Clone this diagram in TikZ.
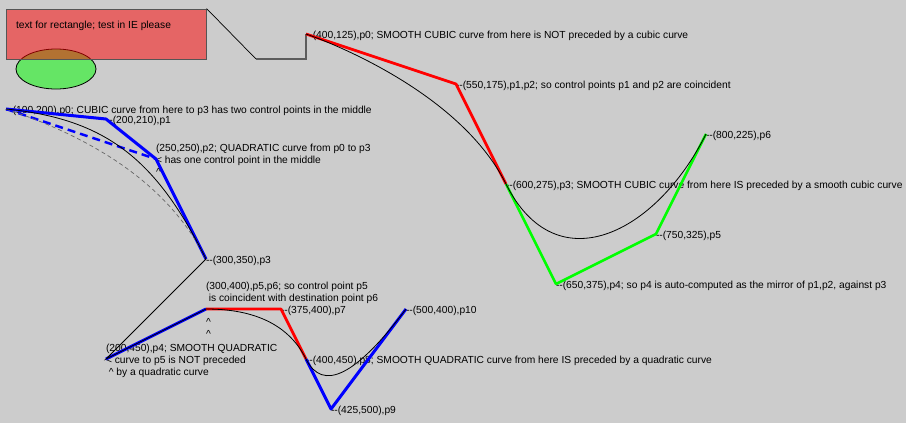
\documentclass[tikz,border=0pt]{standalone}
\usepackage{fontspec}
\setmainfont{Liberation Sans}
\definecolor{bg}{HTML}{CCCCCC}
\definecolor{edgegray}{HTML}{555555}
\definecolor{polygray}{HTML}{5C5C5C}
\begin{document}
\begin{tikzpicture}[x=1pt,y=-1pt,
  lbl/.style={anchor=base west,inner sep=0pt,outer sep=0pt,font=\fontsize{10.25}{12}\selectfont},
  bluepoly/.style={draw=blue,line width=3pt,line join=round},
  redpoly/.style={draw=red,line width=2.7pt,line join=round},
  greenpoly/.style={draw=green,line width=2.5pt,line join=round},
  thincurve/.style={draw=black,line width=0.8pt},
  graydash/.style={draw=gray!80!black,line width=0.7pt,dash pattern=on 4pt off 3pt},
  bluedash/.style={draw=blue,line width=2.4pt,dash pattern=on 8pt off 5pt}]
\path[fill=bg] (94,91) rectangle (1000,514);
\useasboundingbox (94,91) rectangle (1000,514);
% shapes
\draw[fill=green,fill opacity=0.5,line width=0.8pt] (150,160) ellipse [x radius=40pt,y radius=20pt];
\node[draw=edgegray,line width=1pt,fill=red,fill opacity=0.5,text opacity=1,minimum width=200pt,minimum height=50pt,inner sep=0pt] (box) at (200,125) {};
\node[lbl] (boxtext) at (110,119) {text for rectangle; test in IE please};
\coordinate (d0) at (300,100);
\coordinate (d1) at (350,150);
\coordinate (d2) at (400,150);
% points
\coordinate (u0) at (400,125);
\coordinate (u1) at (550,175);
\coordinate (u3) at (600,275);
\coordinate (u4) at (650,375);
\coordinate (u5) at (750,325);
\coordinate (u6) at (800,225);
\coordinate (a0) at (100,200);
\coordinate (a1) at (200,210);
\coordinate (a2) at (250,250);
\coordinate (a3) at (300,350);
\coordinate (b4) at (200,450);
\coordinate (b6) at (300,400);
\coordinate (b7) at (375,400);
\coordinate (b8) at (400,450);
\coordinate (b9) at (425,500);
\coordinate (b10) at (500,400);
% labels
\node[lbl] (la0) at (100,204) {-{}-(100,200),p0; CUBIC curve from here to p3 has two control points in the middle};
\node[lbl] (la1) at (200,214) {-{}-(200,210),p1};
\node[lbl] (la2a) at (250,242) {(250,250),p2; QUADRATIC curve from p0 to p3};
\node[lbl] (la2b) at (250,254) {< has one control point in the middle};
\node[lbl] (la2c) at (250,266) {\textasciicircum};
\node[lbl] (la3) at (300,354) {-{}-(300,350),p3};
\node[lbl] (lu0) at (400,129) {-{}-(400,125),p0; SMOOTH CUBIC curve from here is NOT preceded by a cubic curve};
\node[lbl] (lu1) at (550,179) {-{}-(550,175),p1,p2; so control points p1 and p2 are coincident};
\node[lbl] (lu3) at (600,279) {-{}-(600,275),p3; SMOOTH CUBIC curve from here IS preceded by a smooth cubic curve};
\node[lbl] (lu4) at (650,379) {-{}-(650,375),p4; so p4 is auto-computed as the mirror of p1,p2, against p3};
\node[lbl] (lu5) at (750,329) {-{}-(750,325),p5};
\node[lbl] (lu6) at (800,229) {-{}-(800,225),p6};
\node[lbl] (lb4a) at (200,442) {(200,450),p4; SMOOTH QUADRATIC};
\node[lbl] (lb4b) at (200,454) {< curve to p5 is NOT preceded};
\node[lbl] (lb4c) at (200,466) {\ \textasciicircum\ by a quadratic curve};
\node[lbl] (lb6a) at (300,380) {(300,400),p5,p6; so control point p5};
\node[lbl] (lb6b) at (300,392) {\ is coincident with destination point p6};
\node[lbl] (lb6c) at (300,416) {\textasciicircum};
\node[lbl] (lb6d) at (300,428) {\textasciicircum};
\node[lbl] (lb7) at (375,404) {-{}-(375,400),p7};
\node[lbl] (lb8) at (400,454) {-{}-(400,450),p8; SMOOTH QUADRATIC curve from here IS preceded by a quadratic curve};
\node[lbl] (lb9) at (425,504) {-{}-(425,500),p9};
\node[lbl] (lb10) at (500,404) {-{}-(500,400),p10};
% top connector
\draw[line width=0.7pt] (box.north east) -- (d1);
\draw[draw=polygray,line width=2pt] (d1) -- (d2) -- (u0);
% control polygons
\draw[redpoly] (u0) -- (u1) -- (u3);
\draw[greenpoly] (u3) -- (u4) -- (u5) -- (u6);
\draw[bluepoly] (a0) -- (a1) -- (a2) -- (a3);
\draw[bluedash] (a0) -- (a2);
\draw[bluepoly] (b4) -- (b6);
\draw[redpoly] (b6) -- (b7) -- (b8);
\draw[bluepoly] (b8) -- (b9) -- (b10);
% curves
\draw[thincurve] (u0) .. controls (u0) and (u1) .. (u3) .. controls (u4) and (u5) .. (u6);
\draw[graydash] (a0) .. controls (200,233.33) and (266.67,283.33) .. (a3);
\draw[thincurve] (a0) .. controls (a1) and (a2) .. (a3) -- (b4) -- (b6)
  .. controls (350,400) and (383.33,416.67) .. (b8)
  .. controls (416.67,483.33) and (450,466.67) .. (b10);
\end{tikzpicture}
\end{document}
